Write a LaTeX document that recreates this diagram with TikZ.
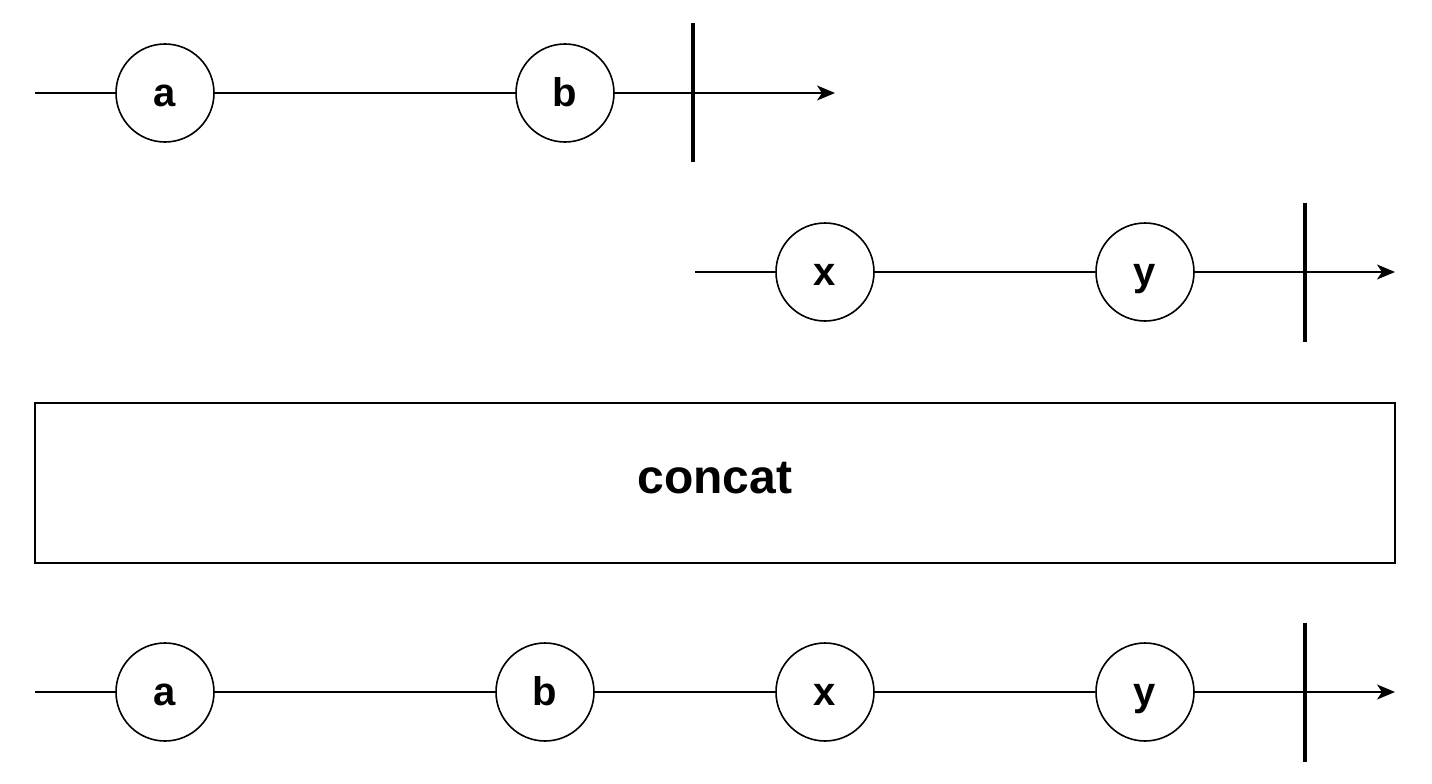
\documentclass[tikz,border=0pt]{standalone}
\usepackage{fontspec}
\setmainfont{Liberation Sans}
\usetikzlibrary{arrows.meta}
\begin{document}
\begin{tikzpicture}[x=1pt,y=-1pt,
  marble/.style={draw,circle,line width=1.6pt,minimum size=98pt,inner sep=0pt,text height=30pt,text depth=4pt,font=\fontsize{40}{44}\selectfont\bfseries},
  wire/.style={line width=1.6pt},
  flow/.style={line width=1.6pt,-{Stealth[length=18pt,width=15pt,inset=5pt]}},
  bar/.style={line width=4pt},
  opbox/.style={draw,line width=1.6pt,minimum width=1360pt,minimum height=160pt,inner sep=0pt,text height=34pt,text depth=14pt,font=\fontsize{48}{52}\selectfont\bfseries}]
\useasboundingbox (0,0) rectangle (1432,784);
% row 1
\coordinate (s1) at (35,93);
\node[marble] (a1) at (165,93) {a};
\node[marble] (b1) at (565,93) {b};
\coordinate (t1top) at (693,23);
\coordinate (t1bot) at (693,162);
\coordinate (e1) at (835,93);
\draw[wire] (s1) -- (a1);
\draw[wire] (a1) -- (b1);
\draw[flow] (b1) -- (e1);
\draw[bar] (t1top) -- (t1bot);
% row 2
\coordinate (s2) at (695,272);
\node[marble] (x2) at (825,272) {x};
\node[marble] (y2) at (1145,272) {y};
\coordinate (t2top) at (1305,203);
\coordinate (t2bot) at (1305,342);
\coordinate (e2) at (1395,272);
\draw[wire] (s2) -- (x2);
\draw[wire] (x2) -- (y2);
\draw[flow] (y2) -- (e2);
\draw[bar] (t2top) -- (t2bot);
% operator box
\node[opbox] (op) at (715,483) {concat};
% row 3
\coordinate (s3) at (35,692);
\node[marble] (a3) at (165,692) {a};
\node[marble] (b3) at (545,692) {b};
\node[marble] (x3) at (825,692) {x};
\node[marble] (y3) at (1145,692) {y};
\coordinate (t3top) at (1305,623);
\coordinate (t3bot) at (1305,762);
\coordinate (e3) at (1395,692);
\draw[wire] (s3) -- (a3);
\draw[wire] (a3) -- (b3);
\draw[wire] (b3) -- (x3);
\draw[wire] (x3) -- (y3);
\draw[flow] (y3) -- (e3);
\draw[bar] (t3top) -- (t3bot);
\end{tikzpicture}
\end{document}
